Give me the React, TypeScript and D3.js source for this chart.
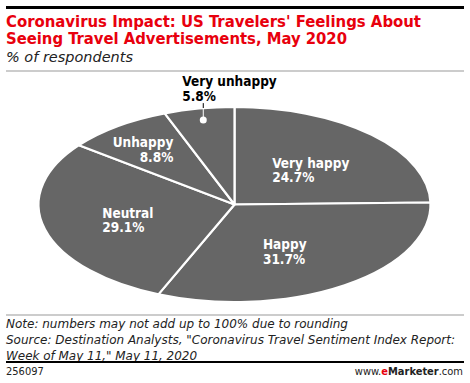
import React from 'react';
import * as d3 from 'd3';

const categories = ['Very happy', 'Happy', 'Neutral', 'Unhappy', 'Very unhappy'];
const values = [24.7, 31.7, 29.1, 8.8, 5.8];
const titleLines = [
  "Coronavirus Impact: US Travelers' Feelings About",
  'Seeing Travel Advertisements, May 2020',
];
const subtitle = '% of respondents';
const noteLines = [
  'Note: numbers may not add up to 100% due to rounding',
  'Source: Destination Analysts, "Coronavirus Travel Sentiment Index Report:',
  'Week of May 11," May 11, 2020',
];
const footerId = '256097';

// layout for labels (positions relative to slice mid-angle)
const labelLayout = [
  { r: 0.53, dx: -35, dy: 0, anchor: 'start' },
  { r: 0.54, dx: -31, dy: 1, anchor: 'start' },
  { r: 0.566, dx: -25, dy: -1, anchor: 'start' },
  { r: 0.74, dx: 25.5, dy: 0.6, anchor: 'end' },
  { r: 0.88, dx: -21, dy: 0, anchor: 'start' },
];

const LABEL_FONT = "'DejaVu Sans Condensed', 'DejaVu Sans', sans-serif";
const TEXT_FONT = "'DejaVu Sans Condensed', 'DejaVu Sans', sans-serif";

export default function App() {
  const W = 470;
  const H = 383;
  const cx = 234.5;
  const cy = 204.5;
  const rx = 196;
  const ry = 97.5;
  const sy = ry / rx;

  const arcs = d3.pie<number>().sort(null).value((d) => d)(values);
  const arc = d3.arc<d3.PieArcDatum<number>>().innerRadius(0).outerRadius(rx);
  const pt = (a: number, f: number) => [cx + rx * f * Math.sin(a), cy - ry * f * Math.cos(a)];
  const fmt = (v: number) => `${v.toFixed(1)}%`;

  return (
    <svg width={W} height={H} style={{ position: 'absolute', left: 0, top: 0, display: 'block' }}>
      <rect width={W} height={H} fill="#fff" />
      <rect x={6} y={6} width={458} height={3} fill="#000" />
      {titleLines.map((t, i) => (
        <text key={i} x={6} y={26.5 + i * 17} fill="#e8000d" fontFamily={TEXT_FONT} fontWeight="bold" fontSize={15}
          textLength={i === 0 ? 415 : 341} lengthAdjust="spacingAndGlyphs">{t}</text>
      ))}
      <text x={6} y={62} fontFamily={TEXT_FONT} fontStyle="italic" fontSize={14} fill="#222"
        textLength={127} lengthAdjust="spacingAndGlyphs">{subtitle}</text>
      <line x1={6} x2={464} y1={71} y2={71} stroke="#999" strokeWidth={1} />

      <g transform={`translate(${cx},${cy}) scale(1,${sy})`}>
        {arcs.map((d, i) => (
          <path key={categories[i]} d={arc(d) || ''} fill="#666666" stroke="#fff" strokeWidth={2.2}
            vectorEffect="non-scaling-stroke" strokeLinejoin="round" />
        ))}
      </g>

      {arcs.map((d, i) => {
        const L = labelLayout[i];
        const mid = (d.startAngle + d.endAngle) / 2;
        const [px, py] = pt(mid, L.r);
        if (i === arcs.length - 1) {
          return (
            <g key={categories[i]}>
              <circle cx={px} cy={py} r={3.5} fill="#fff" />
              <line x1={px} x2={px} y1={py} y2={py - 17} stroke="#fff" strokeWidth={1} />
              <line x1={px} x2={px} y1={cy - ry + 1} y2={py - 17} stroke="#000" strokeWidth={1} />
              <text x={px + L.dx} y={py - 34} fontFamily={LABEL_FONT} fontWeight="bold" fontSize={13.5} fill="#000">{categories[i]}</text>
              <text x={px + L.dx} y={py - 19.5} fontFamily={LABEL_FONT} fontWeight="bold" fontSize={13.5} fill="#000">{fmt(values[i])}</text>
            </g>
          );
        }
        return (
          <g key={categories[i]} fontFamily={LABEL_FONT} fontWeight="bold" fontSize={13.5} fill="#fff" textAnchor={L.anchor}>
            <text x={px + L.dx} y={py + L.dy}>{categories[i]}</text>
            <text x={px + L.dx} y={py + L.dy + 14.5}>{fmt(values[i])}</text>
          </g>
        );
      })}

      <line x1={6} x2={464} y1={315} y2={315} stroke="#999" strokeWidth={1} />
      {noteLines.map((t, i) => (
        <text key={i} x={6} y={328 + i * 16.2} fontFamily={TEXT_FONT} fontStyle="italic" fontSize={12.5} fill="#222"
          textLength={[342, 449, 191][i]} lengthAdjust="spacingAndGlyphs">{t}</text>
      ))}
      <rect x={6} y={361} width={458} height={2} fill="#000" />
      <text x={6} y={375} fontFamily={TEXT_FONT} fontSize={11} fill="#222">{footerId}</text>
      <text x={463} y={375} textAnchor="end" fontFamily={TEXT_FONT} fontSize={11} fill="#222">
        <tspan>www.</tspan>
        <tspan fill="#e8000d" fontWeight="bold">e</tspan>
        <tspan fontWeight="bold">Marketer</tspan>
        <tspan>.com</tspan>
      </text>
    </svg>
  );
}
